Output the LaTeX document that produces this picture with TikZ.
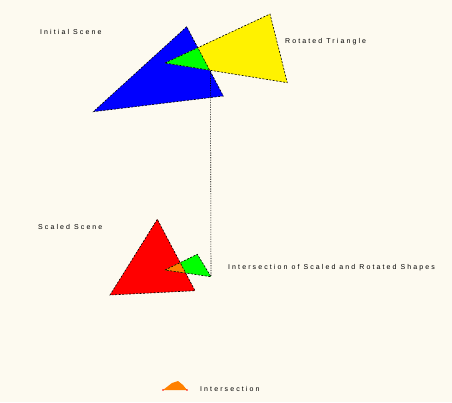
\documentclass[tikz,border=0pt]{standalone}
\usepackage{fontspec}
\setmainfont{Liberation Sans}
\newfontfamily\lblfont[LetterSpace=30]{Liberation Sans}
\begin{document}
\begin{tikzpicture}[x=1pt,y=-1pt,
  edge/.style={draw=black,line width=0.6pt,dash pattern=on 2pt off 1.5pt},
  lbl/.style={anchor=west,inner sep=0pt,font=\lblfont\fontsize{7}{8}\selectfont,text=black}]
\fill[fill={rgb,255:red,253;green,250;blue,240}] (0,0) rectangle (452,402);
\useasboundingbox (0,0) rectangle (452,402);
% top group
\coordinate (b1) at (186.7,26.7);
\coordinate (b2) at (93.3,111.7);
\coordinate (b3) at (223.3,96);
\coordinate (y1) at (165,63);
\coordinate (y2) at (270,14);
\coordinate (y3) at (287.3,82.7);
\fill[blue] (b1) -- (b2) -- (b3) -- cycle;
\fill[yellow] (y1) -- (y2) -- (y3) -- cycle;
\begin{scope}
\clip (b1) -- (b2) -- (b3) -- cycle;
\fill[green] (y1) -- (y2) -- (y3) -- cycle;
\end{scope}
\draw[edge] (b1) -- (b2) -- (b3) -- cycle;
\draw[edge] (y1) -- (y2) -- (y3) -- cycle;
% bottom group
\coordinate (r1) at (157.3,219.3);
\coordinate (r2) at (110,295);
\coordinate (r3) at (195,290.7);
\coordinate (g1) at (165,270);
\coordinate (g2) at (197.3,254.3);
\coordinate (g3) at (211,276.7);
\fill[red] (r1) -- (r2) -- (r3) -- cycle;
\fill[green] (g1) -- (g2) -- (g3) -- cycle;
\begin{scope}
\clip (r1) -- (r2) -- (r3) -- cycle;
\fill[orange] (g1) -- (g2) -- (g3) -- cycle;
\end{scope}
\draw[edge] (r1) -- (r2) -- (r3) -- cycle;
\draw[edge] (g1) -- (g2) -- (g3) -- cycle;
% connector
\coordinate (top) at (210.5,70.7);
\draw[black,line width=0.6pt,dash pattern=on 1.2pt off 1.2pt] (top) -- (g3);
% legend shape
\coordinate (o1) at (163,390);
\coordinate (o2) at (172,383);
\coordinate (o3) at (178,381);
\coordinate (o4) at (183,385);
\coordinate (o5) at (187,390);
\fill[orange] (o1) -- (o2) -- (o3) -- (o4) -- (o5) -- cycle;
\fill[red] (o1) circle (0.8);
\fill[red] (o5) circle (0.8);
% labels
\node[lbl] (l1) at (40,32) {Initial Scene};
\node[lbl] (l2) at (285,42) {Rotated Triangle};
\node[lbl] (l3) at (38,227) {Scaled Scene};
\node[lbl] (l4) at (228,268) {Intersection of Scaled and Rotated Shapes};
\node[lbl] (l5) at (200,389) {Intersection};
\end{tikzpicture}
\end{document}
